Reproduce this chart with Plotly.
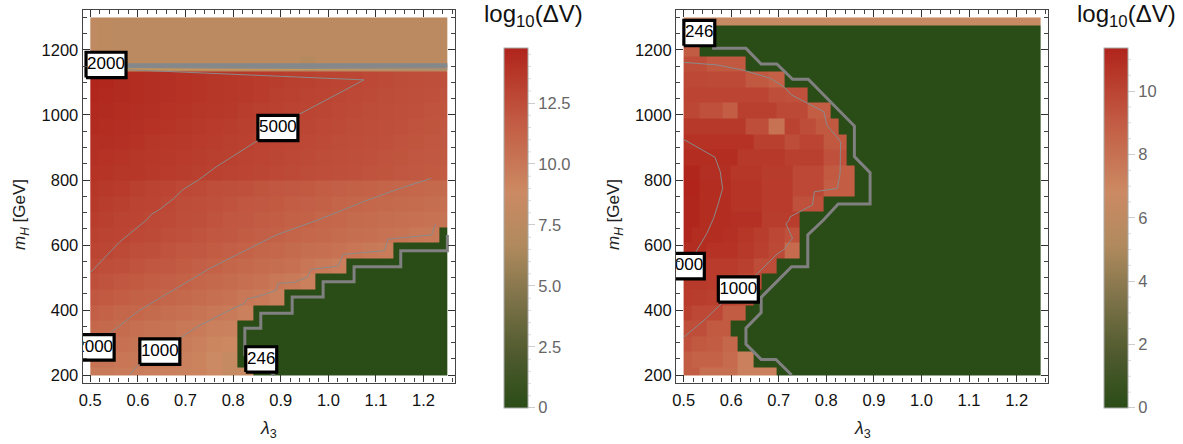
import plotly.graph_objects as go

W, H = 1183, 444
FONT = "Liberation Sans"

# colour scale of both panels
colorscale = [[0.0, "#2a4c17"], [0.15, "#4f5a2e"], [0.3, "#7d7249"], [0.45, "#b08a5e"],
              [0.6, "#cc8a63"], [0.8, "#c25a42"], [1.0, "#b0241b"]]

left_zmax = 14.77
right_zmax = 11.37

# left panel: rows bottom to top, columns left to right
left_z = [
    [9.9,9.9,9.8,9.7,9.6,9.5,9.4,9.3,8.9,8.4,8.5] + [0]*13,
    [10.3,10.2,10.1,10.0,9.8,9.7,9.5,9.3,8.8,8.4] + [0]*14,
    [10.6,10.5,10.4,10.2,10.1,9.9,9.7,9.5,9.2,9.0] + [0]*14,
    [11.0,10.9,10.7,10.5,10.3,10.2,10.0,9.8,9.5,9.4] + [0]*14,
    [11.5,11.3,11.1,11.0,10.8,10.6,10.4,10.2,10.0,9.8,9.5] + [0]*13,
    [12.0,11.8,11.6,11.4,11.3,11.1,10.9,10.7,10.5,10.3,10.0,9.8,9.5] + [0]*11,
    [12.4,12.2,12.0,11.8,11.6,11.5,11.3,11.1,10.9,10.7,10.5,10.3,10.0,9.8,9.5] + [0]*9,
    [12.7,12.5,12.4,12.2,12.0,11.9,11.7,11.5,11.3,11.1,10.9,10.7,10.6,10.4,10.1,9.8,9.6] + [0]*7,
    [13.0,12.9,12.7,12.5,12.4,12.2,12.0,11.9,11.7,11.5,11.3,11.1,11.0,10.8,10.6,10.5,10.3,10.1,9.9,9.7] + [0]*4,
    [13.2,13.1,13.0,12.8,12.7,12.5,12.3,12.2,12.0,11.9,11.7,11.5,11.4,11.2,11.0,10.9,10.7,10.6,10.5,10.3,10.2,10.0,9.9,0],
    [13.4,13.3,13.1,13.0,12.8,12.7,12.5,12.4,12.2,12.0,11.9,11.7,11.6,11.4,11.3,11.1,11.0,10.8,10.7,10.6,10.5,10.4,10.3,10.2],
    [13.6,13.4,13.3,13.1,13.0,12.8,12.6,12.5,12.3,12.2,12.0,11.9,11.8,11.6,11.5,11.4,11.2,11.1,11.0,10.9,10.8,10.7,10.6,10.5],
    [13.8,13.6,13.5,13.3,13.1,13.0,12.8,12.7,12.5,12.4,12.3,12.1,12.0,11.9,11.8,11.6,11.5,11.4,11.3,11.2,11.1,11.0,10.9,10.8],
    [14.0,13.9,13.8,13.8,13.6,13.5,13.4,13.3,13.2,13.1,13.0,12.9,12.8,12.7,12.6,12.5,12.4,12.3,12.2,12.1,12.0,11.9,11.8,11.7],
    [14.1,14.0,13.9,13.8,13.7,13.6,13.5,13.4,13.3,13.2,13.1,13.0,12.9,12.8,12.7,12.6,12.5,12.4,12.3,12.2,12.1,12.0,11.9,11.8],
    [14.2,14.2,14.1,14.0,13.8,13.7,13.6,13.5,13.4,13.3,13.2,13.1,13.0,12.9,12.8,12.7,12.6,12.5,12.4,12.3,12.2,12.1,12.0,11.9],
    [14.4,14.3,14.2,14.1,14.0,13.9,13.8,13.6,13.5,13.4,13.3,13.2,13.1,13.0,12.9,12.8,12.7,12.6,12.5,12.4,12.3,12.2,12.1,12.0],
    [14.5,14.4,14.3,14.2,14.1,14.0,13.9,13.8,13.7,13.6,13.4,13.3,13.2,13.1,13.0,12.9,12.8,12.7,12.6,12.5,12.4,12.3,12.2,12.1],
    [14.6,14.5,14.4,14.3,14.2,14.1,14.0,13.9,13.8,13.7,13.6,13.5,13.3,13.2,13.1,13.0,12.9,12.8,12.7,12.6,12.5,12.4,12.3,12.2],
    [14.7,14.6,14.4,14.3,14.2,14.1,14.0,13.9,13.8,13.7,13.6,13.5,13.4,13.3,13.2,13.1,13.0,12.9,12.8,12.7,12.6,12.5,12.4,12.3],
    [7.7,7.7,7.6,7.6,7.6,7.6,7.6,7.6,7.6,7.6,7.6,7.6,7.6,7.6,7.1,7.5,7.5,7.5,7.5,7.5,7.5,7.5,7.5,7.5],
    [7.8,7.7,7.6,7.6,7.6,7.6,7.6,7.6,7.6,7.6,7.6,7.6,7.6,7.6,7.5,7.5,7.5,7.5,7.5,7.5,7.5,7.5,7.5,7.5],
    [7.8,7.7,7.6,7.6,7.6,7.6,7.6,7.6,7.6,7.6,7.6,7.6,7.6,7.6,7.5,7.5,7.5,7.5,7.5,7.5,7.5,7.5,7.5,7.5],
    [7.8,7.7,7.6,7.6,7.6,7.6,7.6,7.6,7.6,7.6,7.6,7.6,7.6,7.6,7.5,7.5,7.5,7.5,7.5,7.5,7.5,7.5,7.5,7.5],
]

# cell edges of the left panel
left_x_edges = [0.5, 0.5163, 0.5489, 0.5815, 0.6141, 0.6467, 0.6793, 0.7120, 0.7446, 0.7772, 0.8098, 0.8424,
                0.8750, 0.9076, 0.9402, 0.9728, 1.0054, 1.0380, 1.0707, 1.1033, 1.1359, 1.1685, 1.2011, 1.2337, 1.25]
y_edges = [200, 223.9, 271.7, 319.6, 367.4, 415.2, 463.0, 510.9, 558.7, 606.5, 654.3, 702.2, 750.0,
           797.8, 845.7, 893.5, 941.3, 989.1, 1037.0, 1084.8, 1132.6, 1180.4, 1228.3, 1276.1, 1300]

# right panel, half-cell columns (remaining columns of a row are zero)
right_rows = [
    [9.0]*2 + [8.1]*5 + [7.3]*5,
    [9.0] + [8.7]*4 + [8.3]*2 + [7.3]*2,
    [9.5,9.2,9.2,9.0,9.0,8.5,8.5],
    [9.6]*3 + [9.1]*3,
    [10.2] + [9.85]*4 + [9.0]*3,
    [10.4,10.3,10.3,10.2,10.2,10.1,10.0,9.8,9.7],
    [10.5,10.5,10.5,10.4,10.4,10.3,10.2,10.0,9.9,9.8],
    [10.6]*3 + [10.4]*4 + [10.2]*2 + [9.7]*3,
    [11.0]*3 + [10.8]*4 + [10.5]*2 + [10.2]*2 + [9.8]*2 + [8.3]*2,
    [11.3] + [11.0]*4 + [10.85]*2 + [10.6]*2 + [10.3]*2 + [9.9]*2 + [9.5]*2,
    [11.3]*2 + [11.0]*4 + [10.85]*4 + [10.3]*5,
    [11.3]*2 + [11.0]*4 + [10.7]*4 + [10.4]*4 + [9.5]*4,
    [11.37]*2 + [11.0]*4 + [10.7]*4 + [10.4]*4 + [9.85]*4 + [8.9]*4,
    [11.3]*2 + [10.9]*4 + [10.6]*4 + [10.35]*4 + [9.85]*4 + [9.1]*2 + [8.9]*2,
    [11.0]*7 + [10.5]*6 + [10.2]*5 + [9.5]*3,
    [10.8]*9 + [10.2]*4 + [9.7]*2 + [10.0]*3 + [9.2]*3,
    [10.5]*8 + [9.6]*3 + [7.9]*2 + [10.1]*2 + [9.7]*2 + [9.2]*3,
    [9.9]*2 + [9.5]*3 + [8.9]*2 + [10.2]*5 + [9.8]*4 + [8.9]*3,
    [10.0]*11 + [9.6]*2 + [9.5]*3,
    [9.85]*3 + [9.75]*5 + [9.2]*3 + [8.8]*2,
    [9.6]*3 + [9.2]*5,
    [9.0]*2,
    [],
    [6.6]*46,
]
right_z = [r + [0]*(46 - len(r)) for r in right_rows]
right_x_edges = [0.5000, 0.5163, 0.5326, 0.5489, 0.5652, 0.5815, 0.5978, 0.6141, 0.6304, 0.6467, 0.6630, 0.6793,
                 0.6957, 0.7120, 0.7283, 0.7446, 0.7609, 0.7772, 0.7935, 0.8098, 0.8261, 0.8424, 0.8587, 0.8750,
                 0.8913, 0.9076, 0.9239, 0.9402, 0.9565, 0.9728, 0.9891, 1.0054, 1.0217, 1.0380, 1.0543, 1.0707,
                 1.0870, 1.1033, 1.1196, 1.1359, 1.1522, 1.1685, 1.1848, 1.2011, 1.2174, 1.2337, 1.25]

# contours, left panel
l246_x = [0.887, 0.8245, 0.8245, 0.858, 0.858, 0.924, 0.924, 0.989, 0.989, 1.054, 1.054, 1.152, 1.152, 1.25, 1.25]
l246_y = [200, 262, 344, 344, 390, 390, 440, 440, 487, 487, 533, 533, 582, 582, 631]
ltop_x = [0.5, 1.25]
ltop_y = [1152, 1152]
l2000top_x = [0.5, 1.25]
l2000top_y = [1146, 1148]
lgold_x = [0.5, 1.25]
lgold_y = [1142, 1140]
l5000_x = [0.5, 0.531, 0.562, 0.618, 0.629, 0.646, 0.674, 0.695, 0.727, 0.765, 0.852, 0.936, 1.075,
           0.905, 0.765, 0.73, 0.597, 0.5, 1.25]
l5000_y = [515, 564, 610, 677, 695, 710, 741.5, 771, 800, 841, 923, 1000, 1108,
           1118, 1126, 1130, 1138, 1146, 1141]
l2000_x = [0.508, 0.541, 0.604, 0.681, 0.751, 0.828, 0.891, 0.978, 1.073, 1.15, 1.216]
l2000_y = [285, 328, 400, 467, 528, 585, 631, 677, 733, 774, 805]
l1000_x = [0.582, 0.604, 0.688, 0.723, 0.786, 0.824, 0.829, 0.863, 0.891, 0.894, 0.929, 0.957, 0.963,
           1.02, 1.031, 1.118, 1.125, 1.217, 1.225]
l1000_y = [200, 236, 313, 347, 395, 420.5, 434, 446, 461.5, 482, 485, 502.5, 525,
           535, 571, 582.6, 618, 631, 665]

# contours, right panel
r246_x = [0.727, 0.694, 0.663, 0.631, 0.631, 0.663, 0.663, 0.727, 0.761, 0.761, 0.794, 0.825, 0.892, 0.892,
          0.859, 0.859, 0.762, 0.729, 0.696, 0.663, 0.631, 0.56]
r246_y = [200, 248, 248, 295, 344, 392, 439, 533, 533, 631, 677, 726, 726, 822.6,
          872, 966, 1110, 1110, 1157, 1157, 1205, 1205]
r1000_x = [0.5, 0.545, 0.58, 0.656, 0.694, 0.71, 0.729, 0.715, 0.722, 0.724, 0.771, 0.775, 0.823, 0.829,
           0.83, 0.801, 0.795, 0.727, 0.712, 0.682, 0.626, 0.57, 0.5]
r1000_y = [316, 371, 420.5, 513, 569, 585, 620.5, 665, 677, 687, 723, 764, 774, 820.5,
           918, 969, 1010, 1061.5, 1085, 1113, 1138, 1154, 1162]
r2000_x = [0.5, 0.566, 0.577, 0.582, 0.573, 0.563, 0.549, 0.524, 0.505]
r2000_y = [925, 870, 825.6, 774, 728, 682, 636, 574, 535]

# contour labels
left_label_text = ["2000", "5000", "2000", "1000", "246"]
left_label_x = [0.533, 0.894, 0.508, 0.646, 0.859]
left_label_y = [1154, 960, 285, 272, 248]
left_label_w = [0.084, 0.084, 0.084, 0.084, 0.065]
right_label_text = ["246", "2000", "1000"]
right_label_x = [0.533, 0.5015, 0.615]
right_label_y = [1252, 535, 463]
right_label_w = [0.065, 0.084, 0.084]
LABEL_H = 78

left_ticks = [0, 2.5, 5, 7.5, 10, 12.5]
left_tick_text = ["0", "2.5", "5.0", "7.5", "10.0", "12.5"]
left_minor = [0.5,1,1.5,2,3,3.5,4,4.5,5.5,6,6.5,7,8,8.5,9,9.5,10.5,11,11.5,12,13,13.5,14,14.5]
right_ticks = [0, 2, 4, 6, 8, 10]
right_tick_text = ["0", "2", "4", "6", "8", "10"]
right_minor = [0.5,1,1.5,2.5,3,3.5,4.5,5,5.5,6.5,7,7.5,8.5,9,9.5,10.5,11]

FRAME_T, FRAME_B = 10.0, 382.5
CB_T, CB_B = 47.7, 408.0

fig = go.Figure()


def panel(xa, ya, xedges, z, zmax, cb_left, ticks, tick_text):
    fig.add_trace(go.Heatmap(
        x=xedges, y=y_edges, z=z, zmin=0, zmax=zmax, colorscale=colorscale, xaxis=xa, yaxis=ya,
        hoverinfo="skip", zsmooth=False,
        colorbar=dict(x=cb_left / W, xanchor="left", y=1 - CB_T / H, yanchor="top", xpad=0, ypad=0,
                      len=CB_B - CB_T, lenmode="pixels", thickness=23.5, thicknessmode="pixels",
                      outlinecolor="#a8a8a8", outlinewidth=1, ticks="outside", ticklen=7, tickwidth=1,
                      tickcolor="#cccccc", tickvals=ticks, ticktext=tick_text,
                      tickfont=dict(family=FONT, size=16.5, color="#666666")),
    ))


def line(xa, ya, x, y, width, color):
    fig.add_trace(go.Scatter(x=x, y=y, xaxis=xa, yaxis=ya, mode="lines", hoverinfo="skip",
                             line=dict(color=color, width=width), showlegend=False, cliponaxis=True))


def labels(xa, ya, xs, ys, ws, texts):
    bx, by = [], []
    for cx, cy, w in zip(xs, ys, ws):
        bx += [cx - w/2, cx + w/2, cx + w/2, cx - w/2, cx - w/2, None]
        by += [cy - LABEL_H/2, cy - LABEL_H/2, cy + LABEL_H/2, cy + LABEL_H/2, cy - LABEL_H/2, None]
    fig.add_trace(go.Scatter(x=bx, y=by, xaxis=xa, yaxis=ya, mode="lines", fill="toself", fillcolor="white",
                             line=dict(color="black", width=3.2), hoverinfo="skip", showlegend=False,
                             cliponaxis=True))
    fig.add_trace(go.Scatter(x=xs, y=ys, xaxis=xa, yaxis=ya, mode="text", text=texts, textposition="middle center",
                             textfont=dict(family=FONT, size=17, color="black"), hoverinfo="skip",
                             showlegend=False, cliponaxis=True))


panel("x", "y", left_x_edges, left_z, left_zmax, 503.5, left_ticks, left_tick_text)
panel("x2", "y2", right_x_edges, right_z, right_zmax, 1103.5, right_ticks, right_tick_text)

GRAY = "#808080"
THIN = "#8a8a8a"
line("x", "y", lgold_x, lgold_y, 1, "#c9a25c")
line("x", "y", l2000top_x, l2000top_y, 1, "#7d8a92")
line("x", "y", ltop_x, ltop_y, 4.5, "#85888a")
line("x", "y", l246_x, l246_y, 3, GRAY)
line("x", "y", l5000_x, l5000_y, 1, THIN)
line("x", "y", l2000_x, l2000_y, 1, THIN)
line("x", "y", l1000_x, l1000_y, 1, THIN)
line("x2", "y2", r246_x, r246_y, 3, GRAY)
line("x2", "y2", r1000_x, r1000_y, 1, THIN)
line("x2", "y2", r2000_x, r2000_y, 1, THIN)
labels("x", "y", left_label_x, left_label_y, left_label_w, left_label_text)
labels("x2", "y2", right_label_x, right_label_y, right_label_w, right_label_text)

tickfont = dict(family=FONT, size=16.5, color="#111111")
xax = dict(range=[0.484, 1.266], tickvals=[0.5,0.6,0.7,0.8,0.9,1.0,1.1,1.2], ticktext=["0.5","0.6","0.7","0.8","0.9","1.0","1.1","1.2"],
           ticks="inside", ticklen=7, tickwidth=1, tickcolor="#333333", mirror="allticks", showline=True,
           linecolor="#444444", linewidth=1.2, showgrid=False, zeroline=False, tickfont=tickfont, ticklabelstandoff=3,
           minor=dict(ticks="inside", ticklen=4, dtick=0.02, tick0=0.5, tickcolor="#444444", tickwidth=1, showgrid=False),
           layer="above traces", automargin=False)
yax = dict(range=[177, 1323], tickvals=[200,400,600,800,1000,1200], ticks="inside", ticklen=7, tickwidth=1,
           tickcolor="#333333", mirror="allticks", showline=True, linecolor="#444444", linewidth=1.2, showgrid=False,
           zeroline=False, tickfont=tickfont,
           minor=dict(ticks="inside", ticklen=4, dtick=50, tick0=200, tickcolor="#444444", tickwidth=1, showgrid=False),
           layer="above traces", automargin=False)
yd = [1 - FRAME_B / H, 1 - FRAME_T / H]

shapes = []
for cb_right, vals, zmax in [(527.0, left_minor, left_zmax), (1127.0, right_minor, right_zmax)]:
    for v in vals:
        py = CB_B - (CB_B - CB_T) * v / zmax
        shapes.append(dict(type="line", xref="paper", yref="paper", x0=(cb_right + 0.5) / W, x1=(cb_right + 4) / W,
                           y0=1 - py / H, y1=1 - py / H, line=dict(color="#dddddd", width=1)))

annotations = [
    dict(text="log<sub>10</sub>(ΔV)", x=cx / W, y=1 - 16 / H, xref="paper", yref="paper", showarrow=False,
         xanchor="center", yanchor="middle", font=dict(family=FONT, size=24, color="#111111"))
    for cx in (533.5, 1126)
]
annotations += [
    dict(text="<i>λ</i><sub>3</sub>", x=cx / W, y=1 - 429 / H, xref="paper", yref="paper", showarrow=False,
         xanchor="center", yanchor="middle", font=dict(family=FONT, size=18, color="#222222"))
    for cx in (268, 862)
]
annotations += [
    dict(text="<i>m</i><sub><i>H</i></sub> [GeV]", x=cx / W, y=1 - 215 / H, xref="paper", yref="paper", showarrow=False,
         xanchor="center", yanchor="middle", textangle=-90, font=dict(family=FONT, size=17, color="#222222"))
    for cx in (21, 615)
]

fig.update_layout(
    width=W, height=H, margin=dict(l=0, r=0, t=0, b=0, autoexpand=False), paper_bgcolor="white", plot_bgcolor="white",
    showlegend=False, font=dict(family=FONT),
    xaxis=dict(xax, domain=[82.7 / W, 455 / W], anchor="y"),
    yaxis=dict(yax, domain=yd, anchor="x"),
    xaxis2=dict(xax, domain=[676 / W, 1048 / W], anchor="y2"),
    yaxis2=dict(yax, domain=yd, anchor="x2"),
    shapes=shapes, annotations=annotations,
)

fig.write_html("out.html", config=dict(displayModeBar=False),
               post_script="document.body.style.margin='0';document.documentElement.style.overflow='hidden';")
